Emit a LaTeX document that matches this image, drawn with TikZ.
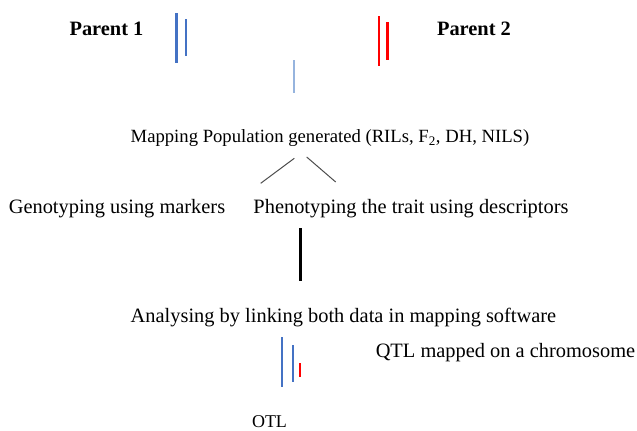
\documentclass[tikz,border=0pt]{standalone}
\usepackage{fontspec}
\setmainfont{Liberation Serif}
\usepackage{tikz}

\definecolor{chromblue}{RGB}{68,114,196}
\definecolor{paleblue}{RGB}{150,180,222}
\definecolor{chromred}{RGB}{255,0,0}

\tikzset{
  lbl/.style={anchor=center, inner sep=0.75pt, font=\fontsize{15.3}{18}\selectfont},
  parentlbl/.style={lbl, font=\fontsize{15.3}{18}\selectfont\bfseries},
  bluebar/.style={draw=chromblue, line width=2pt},
  redbar/.style={draw=chromred, line width=2pt},
  branch/.style={draw=black!70, line width=0.75pt}
}

\begin{document}
\begin{tikzpicture}[x=0.75pt,y=0.75pt,yscale=-1,xscale=1]
\useasboundingbox (0,0) rectangle (637,430);

% Parent chromosomes
\draw [bluebar] (176.7,13) -- (176.7,63) ;
\draw [bluebar] (186,19) -- (186,56) ;
\draw [redbar] (379,16) -- (379,66) ;
\draw [redbar] (387.3,22) -- (387.3,60) ;
% cross line
\draw [draw=paleblue, line width=1pt] (294,60) -- (294,93) ;

% Text Node
\node [parentlbl] (par1) at (106.5,29) {Parent 1};
% Text Node
\node [parentlbl] (par2) at (474,29) {Parent 2};
% Text Node
\node [lbl, font=\fontsize{14}{17}\selectfont] (mappop) at (330,138) {Mapping Population generated (RILs, F\textsubscript{2}, DH, NILS)};
% Text Node
\node [lbl] (geno) at (117,209) {Genotyping using markers};
% Text Node
\node [lbl] (pheno) at (411,209) {Phenotyping the trait using descriptors};
% Text Node
\node [lbl] (analyse) at (343.5,318) {Analysing by linking both data in mapping software};
% Text Node
\node [lbl] (qtlmap) at (505.5,353) {QTL mapped on a chromosome};
% Text Node
\node [lbl, font=\fontsize{13.5}{16}\selectfont] (otl) at (269.5,422) {OTL};

% branches
\coordinate (brL0) at (294.3,158.3);
\coordinate (brL1) at (260.7,183.3);
\coordinate (brR0) at (306.7,157);
\coordinate (brR1) at (335.7,182);
\draw [branch] (brL0) -- (brL1) ;
\draw [branch] (brR0) -- (brR1) ;

% thick link bar
\draw [line width=2.6pt] (300.3,228) -- (300.3,280.7) ;

% mapped chromosome
\draw [draw=chromblue, line width=1.6pt] (281.7,337) -- (281.7,387) ;
\draw [draw=chromblue, line width=1.6pt] (293,345) -- (293,382) ;
\draw [draw=chromred, line width=1.6pt] (300.3,363) -- (300.3,377) ;

\end{tikzpicture}
\end{document}
